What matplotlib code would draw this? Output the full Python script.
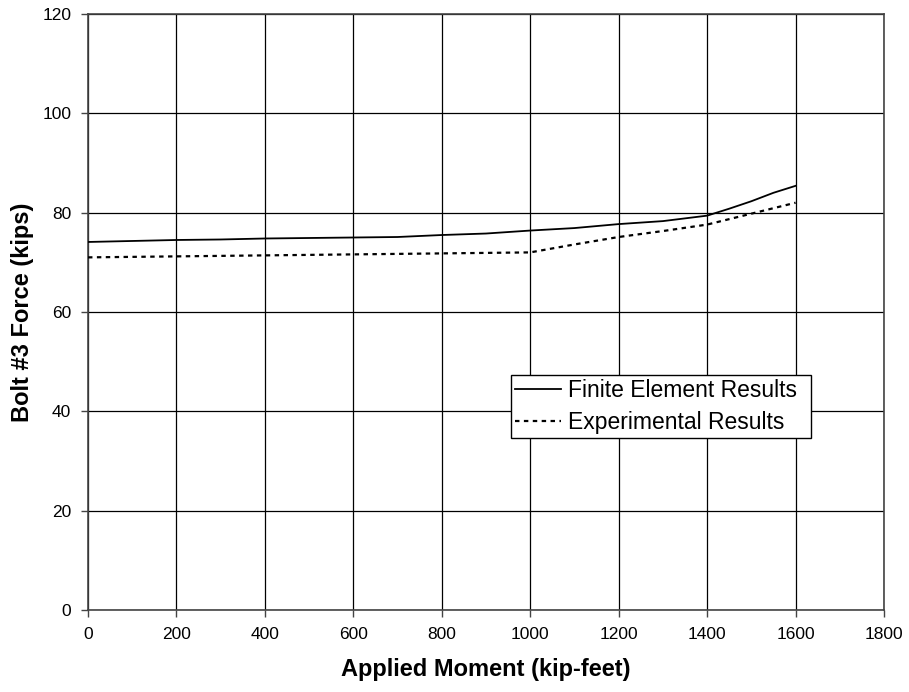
import matplotlib
matplotlib.use("Agg")
import matplotlib.pyplot as plt

plt.rcParams['font.family'] = ['Liberation Sans', 'DejaVu Sans']

moment_fe = [0, 100, 200, 300, 400, 500, 600, 700, 800, 900, 1000, 1100, 1200, 1300, 1400, 1450, 1500, 1550, 1600]
force_fe = [74.1, 74.3, 74.5, 74.6, 74.8, 74.9, 75.0, 75.1, 75.5, 75.8, 76.4, 76.9, 77.7, 78.3, 79.4, 80.8, 82.3, 84.0, 85.4]

moment_exp = [0, 100, 200, 300, 400, 500, 600, 700, 800, 900, 1000, 1100, 1200, 1300, 1400, 1500, 1600]
force_exp = [71.0, 71.1, 71.2, 71.3, 71.4, 71.5, 71.6, 71.7, 71.8, 71.9, 72.0, 73.6, 75.1, 76.3, 77.6, 79.8, 82.0]

xticks = [0, 200, 400, 600, 800, 1000, 1200, 1400, 1600, 1800]
yticks = [0, 20, 40, 60, 80, 100, 120]

fig = plt.figure(figsize=(9.09, 6.92), dpi=100)
ax = fig.add_axes([88/909, 1-610/692, 796/909, 596/692])

ax.plot(moment_fe, force_fe, color='black', lw=1.3, label='Finite Element Results', zorder=3)
ax.plot(moment_exp, force_exp, color='black', lw=1.6, linestyle=(0, (2, 2)), label='Experimental Results', zorder=3)

ax.set_xlim(0, 1800)
ax.set_ylim(0, 120)
ax.set_xticks(xticks)
ax.set_yticks(yticks)
ax.grid(True, color='black', lw=0.9)
ax.set_axisbelow(True)
for s in ax.spines.values():
    s.set_color('#444444')
    s.set_linewidth(1.2)
ax.tick_params(direction='out', length=5, width=1, color='#444444', labelsize=12.5, pad=7)

ax.set_xlabel('Applied Moment (kip-feet)', fontsize=17, fontweight='bold', labelpad=12)
ax.set_ylabel('Bolt #3 Force (kips)', fontsize=17, fontweight='bold', labelpad=6)

leg = ax.legend(loc='lower left', bbox_to_anchor=((511-88)/796, (610-438)/596, 300/796, 65/596),
                mode='expand', borderaxespad=0, fancybox=False, framealpha=1,
                edgecolor='black', fontsize=16.5, handlelength=2.0, handletextpad=0.3,
                labelspacing=0.38, borderpad=0.18)
leg.get_frame().set_linewidth(1.0)

fig.savefig('out.png', dpi=100)
